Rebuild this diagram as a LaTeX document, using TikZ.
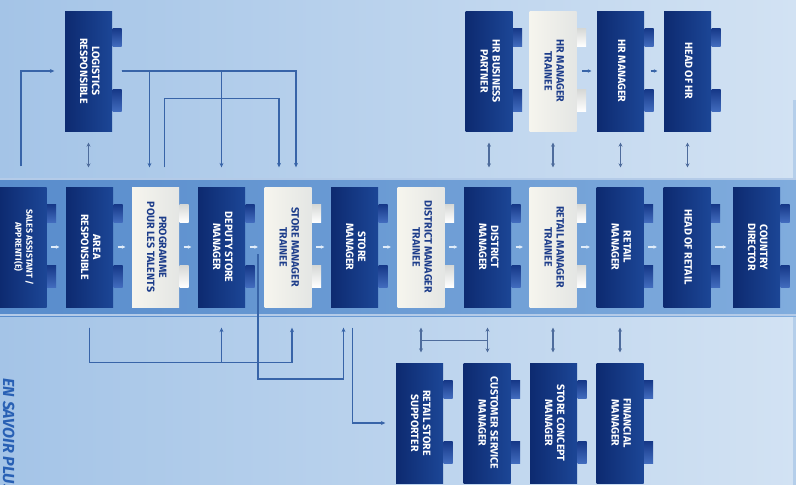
\documentclass[tikz,border=0pt]{standalone}
\usepackage{fontspec}
\setsansfont{Fira Sans}
\usetikzlibrary{arrows.meta,calc}
\tikzstyle{every path}=[line width=1.3pt]
\definecolor{navydark}{RGB}{13,42,112}
\definecolor{navylight}{RGB}{28,70,150}
\definecolor{tabdark}{RGB}{22,56,136}
\definecolor{tablight}{RGB}{66,108,190}
\definecolor{paper}{RGB}{246,245,238}
\definecolor{paperedge}{RGB}{228,230,228}
\definecolor{papertab}{RGB}{214,216,214}
\definecolor{inkblue}{RGB}{28,60,138}
\definecolor{skyleft}{RGB}{164,196,231}
\definecolor{skyright}{RGB}{210,226,243}
\definecolor{skyedge}{RGB}{180,206,234}
\definecolor{bandleft}{RGB}{88,140,204}
\definecolor{bandright}{RGB}{128,172,221}
\definecolor{wire}{RGB}{56,100,168}
\definecolor{twoway}{RGB}{78,108,156}
\definecolor{flowtip}{RGB}{224,236,249}
\definecolor{slogan}{RGB}{40,96,180}
\tikzstyle{jobbox}=[rectangle, minimum width=47pt, minimum height=120pt, inner sep=0pt,
    left color=navydark, right color=navylight, text=white,
    font=\sffamily\bfseries\fontsize{10.6}{12}\selectfont]
\tikzstyle{talentbox}=[jobbox, left color=paper, right color=paperedge, text=inkblue]
\tikzstyle{link}=[draw=wire, -{Stealth[length=4.5pt,width=4pt]}]
\tikzstyle{plainlink}=[draw=wire]
\tikzstyle{both}=[draw=twoway, line width=1.1pt, {Stealth[length=4pt,width=4pt]}-{Stealth[length=4pt,width=4pt]}]
\tikzstyle{flow}=[draw=flowtip, line width=1.2pt, -{Stealth[length=3.5pt,width=3.5pt]}, shorten <=4pt, shorten >=6pt]
\tikzstyle{hrflow}=[draw=wire, line width=1.1pt, -{Stealth[length=3.5pt,width=3.5pt]}, shorten <=5pt, shorten >=5pt]
\newcommand{\vtext}[1]{\rotatebox{-90}{\begin{tabular}{@{}c@{}}#1\end{tabular}}}

\begin{document}
\begin{tikzpicture}[x=1pt,y=-1pt]
    \useasboundingbox (0,0) rectangle (796,485);
    \shade[left color=skyleft, right color=skyright] (0,0) rectangle (796,485);
    \fill[skyedge] (793,100) rectangle (796,178);
    \fill[skyedge] (793,316) rectangle (796,485);
    \shade[left color=bandleft, right color=bandright] (0,178) rectangle (796,316);
    \draw[white!55!bandleft] (0,179) -- (796,179);
    \draw[white!55!bandleft] (0,315) -- (796,315);

    \node[jobbox] (lg) at (88.5,71) {\vtext{LOGISTICS\\RESPONSIBLE}};
    \node[jobbox] (hrbp) at (489,71) {\vtext{HR BUSINESS\\PARTNER}};
    \node[talentbox] (hrmt) at (553,71) {\vtext{HR MANAGER\\TRAINEE}};
    \node[jobbox] (hrm) at (620.5,71) {\vtext{HR MANAGER}};
    \node[jobbox] (hhr) at (687.5,71) {\vtext{HEAD OF HR}};

    \node[jobbox, font=\sffamily\bfseries\fontsize{8.8}{11}\selectfont] (sa) at (23,247) {\vtext{SALES ASSISTANT /\\APPRENTI(E)}};
    \node[jobbox] (ar) at (89.5,247) {\vtext{AREA\\RESPONSIBLE}};
    \node[talentbox] (pt) at (155.5,247) {\vtext{PROGRAMME\\POUR LES TALENTS}};
    \node[jobbox] (ds) at (221.5,247) {\vtext{DEPUTY STORE\\MANAGER}};
    \node[talentbox] (smt) at (288,247) {\vtext{STORE MANAGER\\TRAINEE}};
    \node[jobbox] (sm) at (354.5,247) {\vtext{STORE\\MANAGER}};
    \node[talentbox] (dmt) at (421,247) {\vtext{DISTRICT MANAGER\\TRAINEE}};
    \node[jobbox] (dm) at (487.5,247) {\vtext{DISTRICT\\MANAGER}};
    \node[talentbox] (rmt) at (553,247) {\vtext{RETAIL MANAGER\\TRAINEE}};
    \node[jobbox] (rm) at (620,247) {\vtext{RETAIL\\MANAGER}};
    \node[jobbox] (hr) at (687,247) {\vtext{HEAD OF RETAIL}};
    \node[jobbox] (cd) at (756.5,247) {\vtext{COUNTRY\\DIRECTOR}};

    \node[jobbox] (rss) at (419.5,423) {\vtext{RETAIL STORE\\SUPPORTER}};
    \node[jobbox] (csm) at (487,423) {\vtext{CUSTOMER SERVICE\\MANAGER}};
    \node[jobbox] (scm) at (553.5,423) {\vtext{STORE CONCEPT\\MANAGER}};
    \node[jobbox] (fm) at (620,423) {\vtext{FINANCIAL\\MANAGER}};

    \foreach \n in {lg,hrbp,hrm,hhr,sa,ar,ds,sm,dm,rm,hr,cd,rss,csm,scm,fm}{
        \shade[top color=tabdark, bottom color=tablight] ($(\n.north east)+(0,18)$) rectangle ++(9,18);
        \shade[top color=tabdark, bottom color=tablight] ($(\n.north east)+(0,79)$) rectangle ++(9,22);
    }
    \foreach \n in {hrmt,pt,smt,dmt,rmt}{
        \shade[top color=papertab, bottom color=white] ($(\n.north east)+(0,18)$) rectangle ++(9,18);
        \shade[top color=papertab, bottom color=white] ($(\n.north east)+(0,79)$) rectangle ++(9,22);
    }

    \draw[flow] (sa) -- (ar);
    \draw[flow] (ar) -- (pt);
    \draw[flow] (pt) -- (ds);
    \draw[flow] (ds) -- (smt);
    \draw[flow] (smt) -- (sm);
    \draw[flow] (sm) -- (dmt);
    \draw[flow] (dmt) -- (dm);
    \draw[flow] (dm) -- (rmt);
    \draw[flow] (rmt) -- (rm);
    \draw[flow] (rm) -- (hr);
    \draw[flow] (hr) -- (cd);
    \draw[hrflow] (hrmt) -- (hrm);
    \draw[hrflow, shorten <=6pt, shorten >=6pt] (hrm) -- (hhr);

    \draw[both, shorten <=11pt, shorten >=19pt] (lg.south) -- (lg.south |- ar.north);
    \draw[both, shorten <=11pt, shorten >=19pt] (hrbp.south) -- (hrbp.south |- dm.north);
    \draw[both, shorten <=11pt, shorten >=19pt] (hrmt.south) -- (hrmt.south |- rmt.north);
    \draw[both, shorten <=11pt, shorten >=19pt] (hrm.south) -- (hrm.south |- rm.north);
    \draw[both, shorten <=11pt, shorten >=19pt] (hhr.south) -- (hhr.south |- hr.north);
    \draw[both, shorten <=20pt, shorten >=10pt] (dmt.south) -- (dmt.south |- rss.north);
    \draw[both, shorten <=20pt, shorten >=10pt] (dm.south) -- (dm.south |- csm.north);
    \draw[both, shorten <=20pt, shorten >=10pt] (rmt.south) -- (rmt.south |- scm.north);
    \draw[both, shorten <=20pt, shorten >=10pt] (rm.south) -- (rm.south |- fm.north);
    \draw[plainlink, draw=twoway, line width=1.1pt] ($(dmt.south)+(0,33)$) -- ($(dm.south)+(0,33)$);

    \draw[link] ([xshift=-2pt,yshift=20pt]sa.north) |- ([xshift=-10pt]lg.west);
    \coordinate (hub) at ([xshift=9pt]lg.east);
    \draw[link] (hub) -| ([xshift=-6pt,yshift=19pt]pt.north);
    \draw[link] (hub) -| ([yshift=19pt]ds.north);
    \draw[link] (hub) -| ([xshift=8pt,yshift=19pt]smt.north);
    \coordinate (ptup) at ([xshift=9pt,yshift=19pt]pt.north);
    \draw[link] (ptup) -- ++(0,-69) -| ([xshift=-9pt,yshift=19pt]smt.north);

    \coordinate (arlow) at ([yshift=-20pt]ar.south);
    \draw[link] (arlow) -- ++(0,35) -| ([xshift=4pt,yshift=-20pt]smt.south);
    \draw[link] (arlow) -- ++(0,35) -| ([yshift=-20pt]ds.south);
    \coordinate (gapdrop) at ($(ds.east)!0.68!(smt.west)+(0,7)$);
    \draw[link] (gapdrop) -- ++(0,125) -| ([xshift=-11pt,yshift=-20pt]sm.south);
    \draw[link] ([xshift=-2pt,yshift=-20pt]sm.south) |- ([xshift=-10pt]rss.west);

    \node[rotate=-90, anchor=base west, inner sep=0pt, text=slogan, font=\sffamily\bfseries\itshape\fontsize{16}{16}\selectfont] (more) at (3,378) {EN SAVOIR PLUS};
\end{tikzpicture}
\end{document}
